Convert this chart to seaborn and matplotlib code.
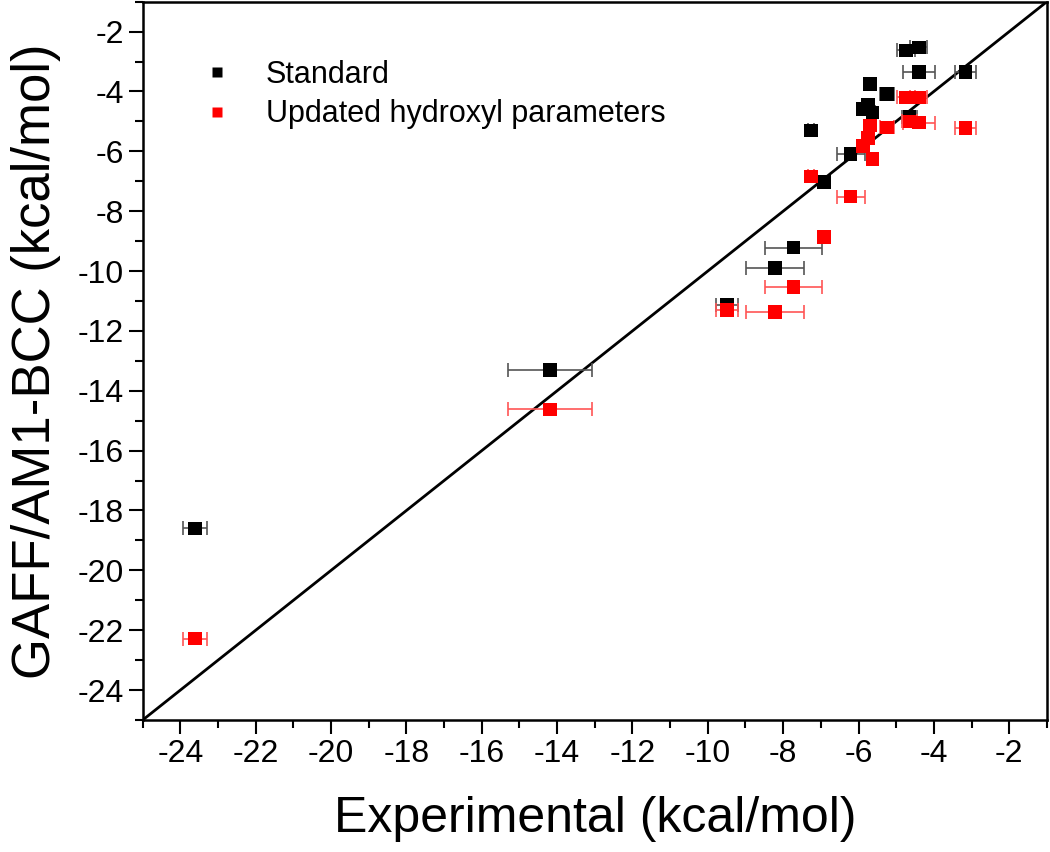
import numpy as np
import pandas as pd
import matplotlib
matplotlib.use("Agg")
import matplotlib.pyplot as plt
from matplotlib.ticker import MultipleLocator
import seaborn as sns

# --- Data ---

experimental = [-23.62, -14.19, -9.49, -8.21, -7.73, -6.92, -7.26, -6.21,
                -5.88, -5.75, -5.63, -5.69, -5.24, -4.74, -4.40, -4.40,
                -4.65, -3.16]
exp_err = [0.32, 1.11, 0.28, 0.77, 0.76, 0.08, 0.08, 0.37,
           0.08, 0.08, 0.08, 0.08, 0.18, 0.24, 0.23, 0.43,
           0.20, 0.28]
standard = [-18.60, -13.31, -11.13, -9.89, -9.22, -7.02, -5.30, -6.09,
            -4.59, -4.44, -4.70, -3.75, -4.08, -2.63, -2.53, -3.35,
            -4.84, -3.35]
updated = [-22.28, -14.62, -11.30, -11.36, -10.54, -8.87, -6.84, -7.51,
           -5.82, -5.56, -6.26, -5.14, -5.20, -4.20, -4.20, -5.04,
           -5.00, -5.22]

series_names = ["Standard", "Updated hydroxyl parameters"]
marker_colors = ["#000000", "#ff0000"]
bar_colors = ["#555555", "#ff5555"]

df = pd.concat([
    pd.DataFrame({"exp": experimental, "err": exp_err, "calc": standard, "set": series_names[0]}),
    pd.DataFrame({"exp": experimental, "err": exp_err, "calc": updated, "set": series_names[1]}),
], ignore_index=True)

# --- Plot ---

sns.set_theme(style="ticks")
plt.rcParams["font.family"] = ["Liberation Sans Narrow", "Liberation Sans", "DejaVu Sans"]
plt.rcParams["axes.unicode_minus"] = False
for key in ["text.color", "axes.labelcolor", "xtick.color", "ytick.color"]:
    plt.rcParams[key] = "black"

fig = plt.figure(figsize=(10.5, 8.52), dpi=100)
ax = fig.add_axes([0.136, 0.155, 0.861, 0.843])

ax.plot([-25, -1], [-25, -1], color="black", lw=2, zorder=1)

for name, bc in zip(series_names, bar_colors):
    sub = df[df["set"] == name]
    ax.errorbar(sub["exp"], sub["calc"], xerr=sub["err"], fmt="none",
                ecolor=bc, elinewidth=1.2, capsize=5, capthick=1.2, zorder=2)

sns.scatterplot(data=df, x="exp", y="calc", hue="set", hue_order=series_names,
                palette=marker_colors, marker="s", s=95, edgecolor="none",
                zorder=3, ax=ax)

ax.set_xlim(-25, -1)
ax.set_ylim(-25, -1)
ax.xaxis.set_minor_locator(MultipleLocator(1))
ax.yaxis.set_minor_locator(MultipleLocator(1))
ax.set_xticks(np.arange(-24, -1, 2))
ax.set_yticks(np.arange(-24, -1, 2))
ax.tick_params(which="major", direction="out", length=10, width=1.5, labelsize=23, color="black")
ax.tick_params(which="minor", direction="out", length=6, width=1.5, color="black")
for sp in ax.spines.values():
    sp.set_linewidth(1.8)
    sp.set_color("black")

ax.set_xlabel("Experimental (kcal/mol)", fontsize=36, labelpad=20)
ax.set_ylabel("GAFF/AM1-BCC (kcal/mol)", fontsize=38, labelpad=12)

leg = ax.legend(loc="upper left", bbox_to_anchor=(0.018, 0.957), frameon=False,
                fontsize=22, markerscale=0.8, handletextpad=0.6, labelspacing=0.3)

fig.savefig("out.png", dpi=100)
